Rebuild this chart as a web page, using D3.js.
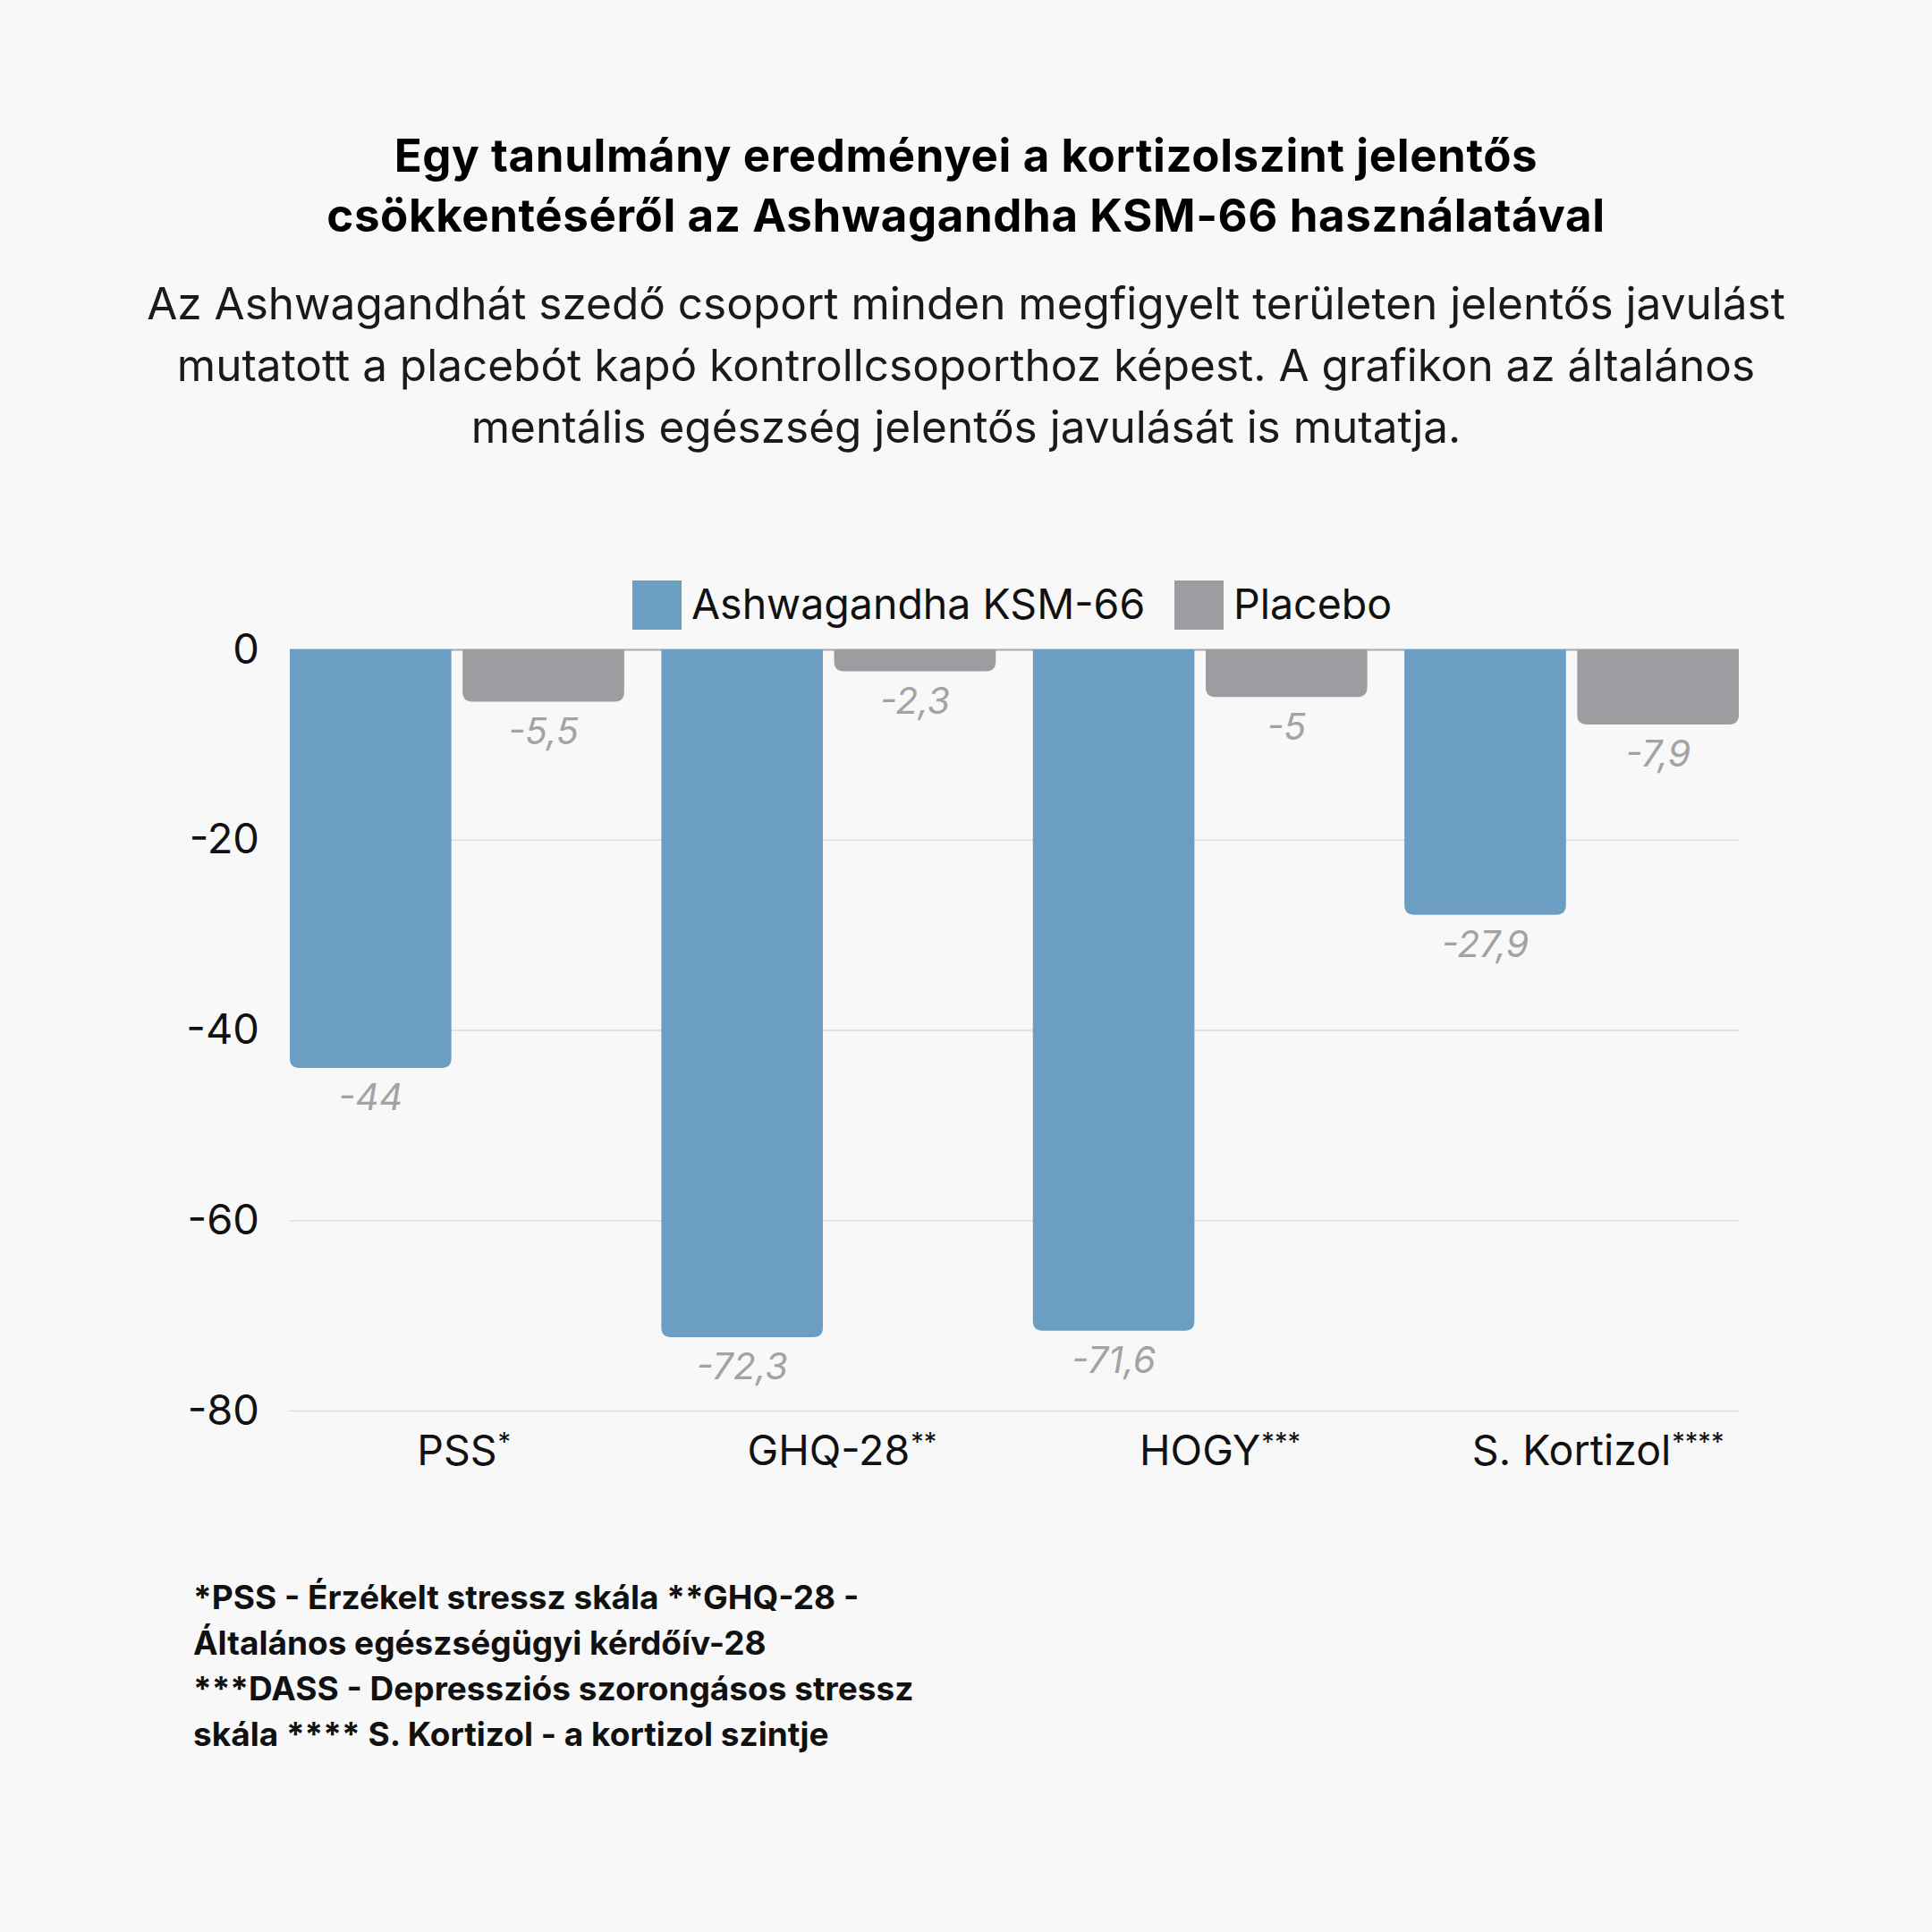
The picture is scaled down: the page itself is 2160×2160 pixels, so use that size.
<!DOCTYPE html>
<html>
<head>
<meta charset="utf-8">
<script src="https://cdn.jsdelivr.net/npm/d3@7"></script>
<style>
  body { margin: 0; background: #f8f8f8; }
  text { font-family: Inter, "Noto Sans", sans-serif; }
</style>
</head>
<body>
<script>
// chart data
const categories = ["PSS", "GHQ-28", "HOGY", "S. Kortizol"];
const superscripts = ["*", "**", "***", "****"];
const seriesNames = ["Ashwagandha KSM-66", "Placebo"];
const ashwagandha = [-44, -72.3, -71.6, -27.9];
const placebo = [-5.5, -2.3, -5, -7.9];
const yTicks = [0, -20, -40, -60, -80];

const titleLines = [
  "Egy tanulmány eredményei a kortizolszint jelentős",
  "csökkentéséről az Ashwagandha KSM-66 használatával"
];
const subtitleLines = [
  "Az Ashwagandhát szedő csoport minden megfigyelt területen jelentős javulást",
  "mutatott a placebót kapó kontrollcsoporthoz képest. A grafikon az általános",
  "mentális egészség jelentős javulását is mutatja."
];
const footnoteLines = [
  "*PSS - Érzékelt stressz skála **GHQ-28 -",
  "Általános egészségügyi kérdőív-28",
  "***DASS - Depressziós szorongásos stressz",
  "skála **** S. Kortizol - a kortizol szintje"
];

const colors = ["#6c9ec4", "#9c9da1"];

const W = 2160, H = 2160;
const margin = { top: 726, right: 216, bottom: 583, left: 324 };
const width = W - margin.left - margin.right,
  height = H - margin.top - margin.bottom;

const locale = d3.formatLocale({
  decimal: ",", thousands: " ", grouping: [3], currency: ["", ""], minus: "-"
});
const fmt = locale.format("~g");

const root = d3
  .select("body")
  .append("svg")
  .attr("width", W)
  .attr("height", H)
  .style("background", "#f8f8f8");

// titles
root
  .selectAll(".title")
  .data(titleLines)
  .enter()
  .append("text")
  .attr("class", "title")
  .attr("x", W / 2)
  .attr("y", (d, i) => 192 + i * 67)
  .attr("text-anchor", "middle")
  .attr("font-size", 51)
  .attr("letter-spacing", 0.6)
  .attr("font-weight", 700)
  .attr("fill", "#000")
  .text((d) => d);

root
  .selectAll(".subtitle")
  .data(subtitleLines)
  .enter()
  .append("text")
  .attr("class", "subtitle")
  .attr("x", W / 2)
  .attr("y", (d, i) => 357 + i * 69)
  .attr("text-anchor", "middle")
  .attr("font-size", 49.5)
  .attr("fill", "#1a1a1a")
  .text((d) => d);

const svg = root
  .append("g")
  .attr("transform", "translate(" + margin.left + "," + margin.top + ")");

// scales
const x0 = d3.scaleBand().domain(categories).range([0, width]).paddingInner(0.1).paddingOuter(0);
const x1 = d3.scaleBand().domain(seriesNames).range([0, x0.bandwidth()]).paddingInner(0.065);
const y = d3.scaleLinear().domain([-80, 0]).range([height, 0]);

// y axis + grid
const yAxis = d3
  .axisLeft(y)
  .tickValues(yTicks)
  .tickSize(-width)
  .tickPadding(34)
  .tickFormat(fmt);

const yg = svg.append("g").attr("class", "y-axis").call(yAxis);
yg.select(".domain").remove();
yg.selectAll(".tick line")
  .attr("stroke", (d) => (d === 0 ? "#a8a8a8" : "#dcdcdc"))
  .attr("stroke-width", (d) => (d === 0 ? 2 : 1.5));
yg.selectAll(".tick text")
  .attr("font-size", 47)
  .attr("fill", "#111")
  .style("font-family", "Inter, sans-serif");

// bars with rounded bottom corners
const rows = categories.map((c, i) => ({
  cat: c,
  values: [
    { key: seriesNames[0], value: ashwagandha[i], color: colors[0] },
    { key: seriesNames[1], value: placebo[i], color: colors[1] }
  ]
}));

function barPath(x, w, y0, y1, r) {
  r = Math.min(r, (y1 - y0) / 2, w / 2);
  return (
    "M" + x + "," + y0 +
    "H" + (x + w) +
    "V" + (y1 - r) +
    "Q" + (x + w) + "," + y1 + " " + (x + w - r) + "," + y1 +
    "H" + (x + r) +
    "Q" + x + "," + y1 + " " + x + "," + (y1 - r) +
    "Z"
  );
}

const groups = svg
  .selectAll(".group")
  .data(rows)
  .enter()
  .append("g")
  .attr("class", "group")
  .attr("transform", (d) => `translate(${x0(d.cat)},0)`);

groups
  .selectAll("path")
  .data((d) => d.values)
  .enter()
  .append("path")
  .attr("d", (d) => barPath(x1(d.key), x1.bandwidth(), y(0), y(d.value), 11))
  .attr("fill", (d) => d.color);

// value labels
groups
  .selectAll(".val")
  .data((d) => d.values)
  .enter()
  .append("text")
  .attr("class", "val")
  .attr("x", (d) => x1(d.key) + x1.bandwidth() / 2)
  .attr("y", (d) => y(d.value) + 33)
  .attr("dy", "0.35em")
  .attr("text-anchor", "middle")
  .attr("font-size", 41)
  .attr("font-style", "italic")
  .attr("fill", "#a3a3a3")
  .text((d) => fmt(d.value));

// x axis labels: name centred on the group, stars appended as superscript
const xg = svg.append("g").attr("class", "x-axis").attr("transform", `translate(0, ${height})`);
const xl = xg
  .selectAll("g")
  .data(categories)
  .enter()
  .append("g")
  .attr("transform", (d) => `translate(${x0(d) + x0.bandwidth() / 2},61)`);
xl.append("text")
  .attr("text-anchor", "middle")
  .attr("font-size", 46.5)
  .attr("fill", "#111")
  .text((d) => d);
xl.append("text")
  .attr("x", function () {
    return this.parentNode.querySelector("text").getComputedTextLength() / 2 + 1;
  })
  .attr("y", -16)
  .attr("font-size", 29)
  .attr("fill", "#111")
  .text((d, i) => superscripts[i]);

// legend
const legend = root
  .append("g")
  .attr("transform", "translate(707,649)");
const legendX = [0, 606];
const li = legend
  .selectAll("g")
  .data(seriesNames)
  .enter()
  .append("g")
  .attr("transform", (d, i) => `translate(${legendX[i]},0)`);
li.append("rect")
  .attr("width", 55)
  .attr("height", 55)
  .attr("fill", (d, i) => colors[i]);
li.append("text")
  .attr("x", 66)
  .attr("y", 27)
  .attr("dy", "0.35em")
  .attr("font-size", 46.5)
  .attr("fill", "#111")
  .text((d) => d);

// footnote
root
  .selectAll(".foot")
  .data(footnoteLines)
  .enter()
  .append("text")
  .attr("class", "foot")
  .attr("x", 216)
  .attr("y", (d, i) => 1799 + i * 51)
  .attr("font-size", 37)
  .attr("font-weight", 700)
  .attr("fill", "#111")
  .text((d) => d);
</script>
</body>
</html>
